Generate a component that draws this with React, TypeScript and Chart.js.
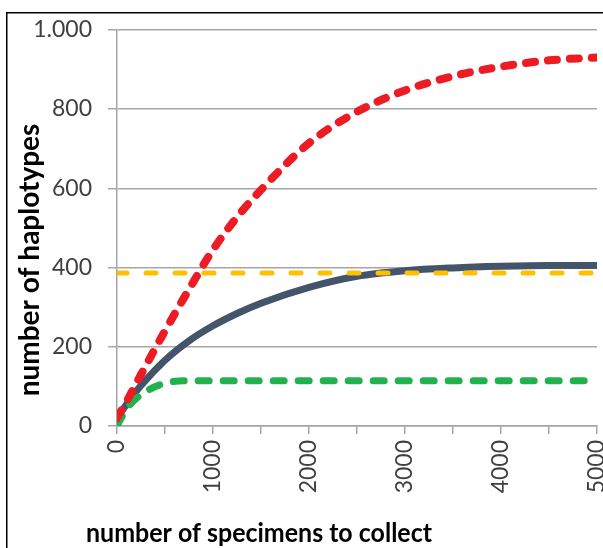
import { useEffect, useRef } from 'react';
import { Chart, registerables } from 'chart.js';

Chart.register(...registerables);

// ---- data ----
const specimens = [0, 100, 250, 500, 750, 1000, 1250, 1500, 2000, 2500, 3000, 3500, 4000, 4500, 5000];
const redSeries = [20, 62, 130, 240, 345, 445, 527, 596, 714, 793, 847, 883, 907, 923, 930];
const navySeries = [20, 55, 102, 166, 215, 253, 284, 310, 350, 378, 392, 399, 403, 405, 405];
const greenSeries = [0, 43, 79, 108, 114, 114, 114, 114, 114, 114, 114, 114, 114, 114, 114];
const orangeSeries = [386, 386, 386, 386, 386, 386, 386, 386, 386, 386, 386, 386, 386, 386, 386];

const yTickValues = [0, 200, 400, 600, 800, 1000];
const yTickLabels = ['0', '200', '400', '600', '800', '1.000'];
const xTickValues = [0, 1000, 2000, 3000, 4000, 5000];
const xTickLabels = ['0', '1000', '2000', '3000', '4000', '5000'];

const xTitle = 'number of specimens to collect';
const yTitle = 'number of haplotypes';

const toPoints = (ys: number[]) => ys.map((y, i) => ({ x: specimens[i], y }));

const GRID = '#A6A6A6';
const TICK_COLOR = '#404040';
const FONT = 'Lato, "Open Sans", sans-serif';

const decorPlugin = {
  id: 'decor',
  afterDraw(chart: any) {
    const ctx = chart.ctx as CanvasRenderingContext2D;
    ctx.save();
    ctx.strokeStyle = '#000';
    ctx.lineWidth = 1.5;
    ctx.strokeRect(6.75, 12.75, chart.width + 40, chart.height + 40);
    ctx.fillStyle = '#000';
    ctx.textAlign = 'center';
    ctx.textBaseline = 'alphabetic';
    ctx.font = `bold 26px ${FONT}`;
    ctx.save();
    ctx.translate(259, 541.5);
    ctx.scale(0.96, 1);
    ctx.fillText(xTitle, 0, 0);
    ctx.restore();
    ctx.translate(38.5, 260);
    ctx.rotate(-Math.PI / 2);
    ctx.font = `bold 28px ${FONT}`;
    ctx.fillText(yTitle, 0, 0);
    ctx.restore();
  },
};

export default function App() {
  const ref = useRef<HTMLCanvasElement | null>(null);

  useEffect(() => {
    if (!ref.current) return;
    const common = {
      pointRadius: 0,
      pointHoverRadius: 0,
      fill: false,
      cubicInterpolationMode: 'monotone' as const,
      borderCapStyle: 'round' as const,
      borderJoinStyle: 'round' as const,
    };
    const chart = new Chart(ref.current, {
      type: 'line',
      data: {
        datasets: [
          { ...common, label: 'red', data: toPoints(redSeries), borderColor: '#ED1C24', borderWidth: 8, borderDash: [9, 13] },
          { ...common, label: 'green', data: toPoints(greenSeries), borderColor: '#22B14C', borderWidth: 7, borderDash: [11, 14] },
          { ...common, label: 'orange', data: toPoints(orangeSeries), borderColor: '#FFC000', borderWidth: 5, borderDash: [10, 19] },
          { ...common, label: 'navy', data: toPoints(navySeries), borderColor: '#44546A', borderWidth: 7 },
        ],
      },
      options: {
        responsive: false,
        animation: false,
        events: [],
        layout: { padding: { left: 0, top: 28, right: 6, bottom: 0 } },
        plugins: {
          legend: { display: false },
          tooltip: { enabled: false },
          title: { display: false },
        },
        scales: {
          x: {
            type: 'linear',
            min: 0,
            max: 5000,
            afterFit: (s: any) => {
              s.height = 122;
              s.paddingLeft = 0;
              s.paddingRight = 0;
            },
            ticks: {
              stepSize: 500,
              autoSkip: false,
              minRotation: 90,
              maxRotation: 90,
              padding: 6,
              color: TICK_COLOR,
              font: { family: FONT, size: 23 },
              callback: (v: any) => {
                const i = xTickValues.indexOf(Number(v));
                return i >= 0 ? xTickLabels[i] : '';
              },
            },
            grid: { display: true, drawOnChartArea: false, drawTicks: true, tickLength: 8, color: GRID, lineWidth: 1.5 },
            border: { display: true, color: GRID, width: 1.5 },
          },
          y: {
            type: 'linear',
            min: 0,
            max: 1000,
            afterFit: (s: any) => {
              s.width = 117;
            },
            ticks: {
              stepSize: 200,
              padding: 16,
              color: TICK_COLOR,
              font: { family: FONT, size: 23 },
              callback: (v: any) => {
                const i = yTickValues.indexOf(Number(v));
                return i >= 0 ? yTickLabels[i] : '';
              },
            },
            grid: { display: true, drawTicks: true, tickLength: 9, color: GRID, lineWidth: 1.5 },
            border: { display: true, color: GRID, width: 1.5 },
          },
        },
      },
      plugins: [decorPlugin],
    });
    return () => chart.destroy();
  }, []);

  return (
    <div style={{ position: 'absolute', left: 0, top: 0, width: 603, height: 548, background: '#fff' }}>
      <canvas ref={ref} width={603} height={548} style={{ display: 'block' }} />
    </div>
  );
}
